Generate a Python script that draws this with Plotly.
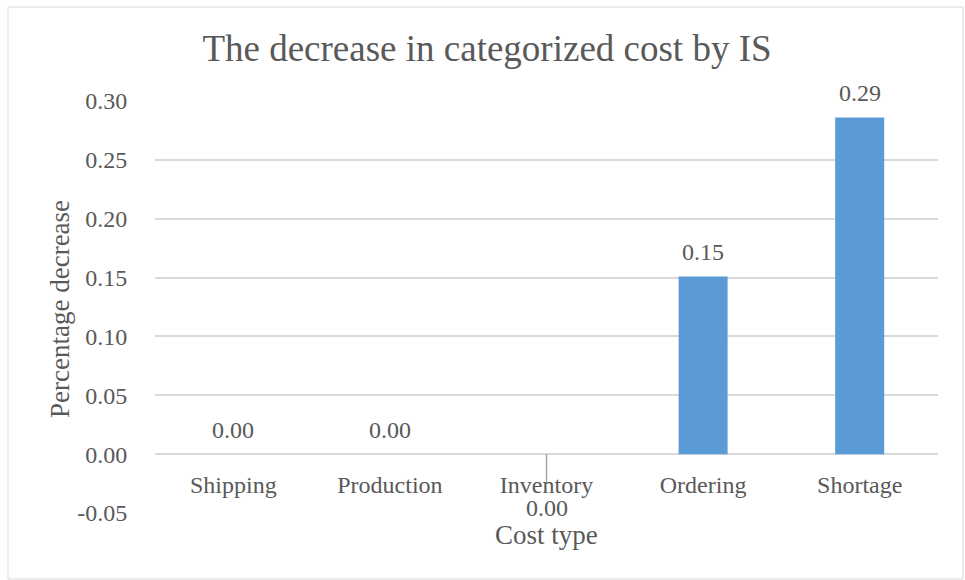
import plotly.graph_objects as go

# Cost categories and the percentage decrease in each
categories = ["Shipping", "Production", "Inventory", "Ordering", "Shortage"]
decrease = [0.0, 0.0, -0.0001, 0.151, 0.286]

y_ticks = [-0.05, 0.0, 0.05, 0.10, 0.15, 0.20, 0.25, 0.30]
y_tick_labels = ["-0.05", "0.00", "0.05", "0.10", "0.15", "0.20", "0.25", "0.30"]

FONT = "Liberation Serif, Times New Roman, serif"
TEXT = "#595959"
GRID = "#d9d9d9"
BAR = "rgba(91,155,213,0.999)"

W, H = 965, 580
L, R, T, B = 155, 938, 101, 513  # plot area in pixels


def px_x(px):
    return (px - L) / (R - L)


def px_y(py):
    return (B - py) / (B - T)


def fmt(v):
    return f"{round(v, 2) + 0:.2f}"


fig = go.Figure()
fig.add_trace(go.Bar(
    x=categories, y=decrease,
    marker=dict(color=BAR, line=dict(width=0)),
    hoverinfo="x+y",
))

# leader line for the small negative value
neg_cat = [c for c, v in zip(categories, decrease) if v < 0]
for c in neg_cat:
    fig.add_trace(go.Scatter(
        x=[c, c], y=[0, -0.025], mode="lines",
        line=dict(color="#a6a6a6", width=1.5), hoverinfo="skip",
    ))

annotations = []
for c, v in zip(categories, decrease):
    if v >= 0:
        annotations.append(dict(
            x=c, y=v, xref="x", yref="y", text=fmt(v), showarrow=False,
            xanchor="center", yanchor="bottom", yshift=9,
            font=dict(family=FONT, size=24, color=TEXT),
        ))
    else:
        annotations.append(dict(
            x=c, y=-0.046, xref="x", yref="y", text=fmt(v), showarrow=False,
            xanchor="center", yanchor="middle",
            font=dict(family=FONT, size=24, color=TEXT),
        ))

annotations.append(dict(
    x=px_x(60), y=px_y(309), xref="paper", yref="paper",
    xanchor="center", yanchor="middle",
    text="Percentage decrease", textangle=-90, showarrow=False,
    font=dict(family=FONT, size=27, color=TEXT),
))
annotations.append(dict(
    x=px_x(546), y=px_y(535), xref="paper", yref="paper",
    xanchor="center", yanchor="middle",
    text="Cost type", showarrow=False,
    font=dict(family=FONT, size=27, color=TEXT),
))

fig.update_layout(
    width=W, height=H,
    margin=dict(l=L, r=W - R, t=T, b=H - B),
    paper_bgcolor="white", plot_bgcolor="white",
    showlegend=False,
    bargap=0.687,
    title=dict(
        text="The decrease in categorized cost by IS",
        x=px_x(487), xanchor="center", y=1 - 48 / H, yanchor="middle",
        xref="paper",
        font=dict(family=FONT, size=37, color=TEXT),
    ),
    xaxis=dict(
        anchor="free", position=px_y(454),
        showgrid=False, showline=False, zeroline=False,
        ticks="outside", ticklen=9, tickcolor="rgba(0,0,0,0)",
        tickfont=dict(family=FONT, size=24, color=TEXT),
    ),
    yaxis=dict(
        range=[-0.05, 0.30], tickvals=y_ticks, ticktext=y_tick_labels,
        showgrid=True, gridcolor=GRID, gridwidth=1.5,
        zeroline=True, zerolinecolor=GRID, zerolinewidth=1.5,
        showline=False,
        ticks="outside", ticklen=22, tickcolor="rgba(0,0,0,0)",
        tickfont=dict(family=FONT, size=24, color=TEXT),
    ),
    annotations=annotations,
    shapes=[dict(
        type="rect", xref="paper", yref="paper",
        x0=px_x(8), x1=px_x(963), y0=px_y(579), y1=px_y(7),
        line=dict(color=GRID, width=1), fillcolor="rgba(0,0,0,0)",
        layer="below",
    )],
)

fig.write_html("out.html")
